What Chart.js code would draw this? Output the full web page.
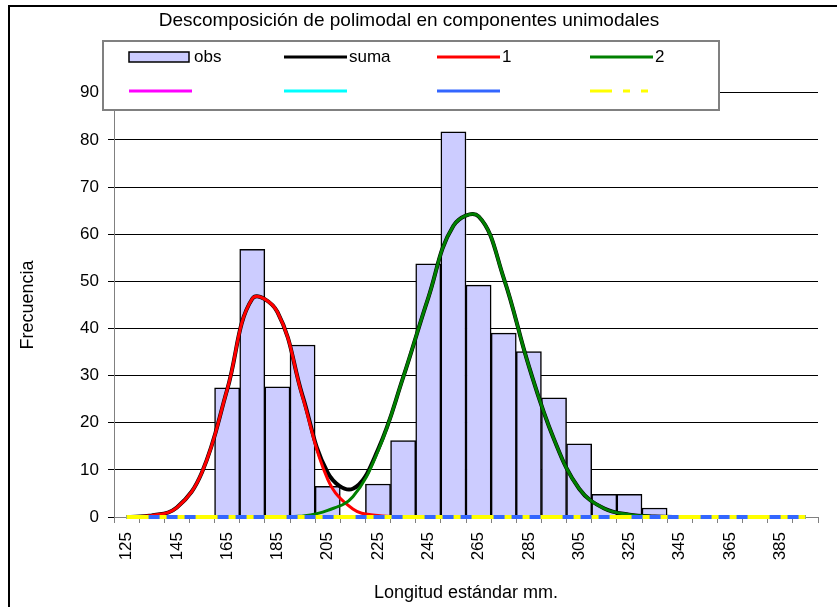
<!DOCTYPE html>
<html>
<head>
<meta charset="utf-8">
<script src="https://cdn.jsdelivr.net/npm/chart.js@4.4.1/dist/chart.umd.min.js"></script>
<style>
  html, body { margin: 0; padding: 0; background: #fff; }
  #wrap { width: 837px; height: 607px; position: relative; }
</style>
</head>
<body>
<div id="wrap"><canvas id="polyChart"></canvas></div>
<script>
// data
const categories = ['125','135','145','155','165','175','185','195','205','215','225','235','245','255',
  '265','275','285','295','305','315','325','335','345','355','365','375','385','395'];
const obs   = [0,0,0,0,27.4,56.8,27.6,36.5,6.5,0,7,16.2,53.7,81.7,49.2,39,35.1,25.3,15.5,4.8,4.8,1.9,0,0,0,0,0,0];
const suma  = [0,0.3,2,9.5,27,46.3,43.5,25.7,9.4,6,14.3,29.6,46.5,61.8,63.8,50.7,32,16.5,6,1.8,0.5,0.1,0,0,0,0,0,0];
const comp1 = [0,0.3,2,9.5,27,46.3,43.5,25.5,8,1.7,0.3,0,0,0,0,0,0,0,0,0,0,0,0,0,0,0,0,0];
const comp2 = [0,0,0,0,0,0,0,0.2,1.4,4.3,14,29.6,46.5,61.8,63.8,50.7,32,16.5,6,1.8,0.5,0.1,0,0,0,0,0,0];
const comp3 = [0,0,0,0,0,0,0,0,0,0,0,0,0,0,0,0,0,0,0,0,0,0,0,0,0,0,0,0];
const comp4 = [0,0,0,0,0,0,0,0,0,0,0,0,0,0,0,0,0,0,0,0,0,0,0,0,0,0,0,0];
const comp5 = [0,0,0,0,0,0,0,0,0,0,0,0,0,0,0,0,0,0,0,0,0,0,0,0,0,0,0,0];
const comp6 = [0,0,0,0,0,0,0,0,0,0,0,0,0,0,0,0,0,0,0,0,0,0,0,0,0,0,0,0];

const FONT = "'Liberation Sans', Arial, sans-serif";

function curve(label, data, color, order, width) {
  return {
    type: 'line', label: label, data: data, order: order,
    borderColor: color, backgroundColor: color, borderWidth: width || 3,
    pointRadius: 0, tension: 0.4, fill: false, clip: false
  };
}

// frame around the whole chart
const frame = {
  id: 'frame',
  beforeDraw(chart) {
    const c = chart.ctx;
    c.save();
    c.fillStyle = '#fff';
    c.fillRect(0, 0, chart.width, chart.height);
    c.strokeStyle = '#000';
    c.lineWidth = 2;
    c.beginPath();
    c.moveTo(9, chart.height);
    c.lineTo(9, 6);
    c.lineTo(chart.width, 6);
    c.stroke();
    c.restore();
  }
};

// legend box drawn over the top of the plot, 4 columns x 2 rows
const legendBox = {
  id: 'legendBox',
  afterDraw(chart) {
    const c = chart.ctx;
    c.save();
    c.fillStyle = '#fff';
    c.fillRect(103, 41, 616, 69);
    c.strokeStyle = '#808080';
    c.lineWidth = 2;
    c.strokeRect(103, 41, 616, 69);
    const cols = [129, 284, 437, 590];
    const rows = [57, 91];
    chart.data.datasets.forEach(function(ds, i) {
      const x = cols[i % 4], y = rows[Math.floor(i / 4)];
      if (ds.type === 'line') {
        c.strokeStyle = ds.borderColor;
        c.lineWidth = 3;
        c.setLineDash(ds.borderDash || []);
        c.beginPath();
        c.moveTo(x, y);
        c.lineTo(x + 63, y);
        c.stroke();
        c.setLineDash([]);
      } else {
        c.fillStyle = ds.backgroundColor;
        c.fillRect(x, y - 5, 60, 10);
        c.strokeStyle = '#000';
        c.lineWidth = 1.5;
        c.strokeRect(x, y - 5, 60, 10);
      }
      if (ds.label) {
        c.fillStyle = '#000';
        c.font = '17px ' + FONT;
        c.textBaseline = 'middle';
        c.fillText(ds.label, x + 65, y);
      }
    });
    c.restore();
  }
};

const yellowLine = curve('', comp6, '#FFFF00', 1, 4);
yellowLine.borderDash = [22, 11, 7, 11, 7, 11];
yellowLine.tension = 0;

new Chart(document.getElementById('polyChart'), {
  type: 'bar',
  data: {
    labels: categories,
    datasets: [
      {
        label: 'obs', data: obs, order: 8,
        backgroundColor: '#CCCCFF', borderColor: '#000', borderWidth: 1.5,
        borderSkipped: false, barPercentage: 1, categoryPercentage: 1
      },
      curve('suma', suma, '#000000', 7, 4),
      curve('1', comp1, '#FF0000', 6),
      curve('2', comp2, '#008000', 5),
      curve('', comp3, '#FF00FF', 4),
      curve('', comp4, '#00FFFF', 3),
      curve('', comp5, '#3366FF', 2, 4),
      yellowLine
    ]
  },
  options: {
    responsive: true,
    maintainAspectRatio: false,
    animation: false,
    layout: { padding: { top: 0, right: 19, bottom: 0, left: 0 } },
    plugins: {
      legend: { display: false },
      tooltip: { enabled: false },
      title: {
        display: true,
        text: 'Descomposición de polimodal en componentes unimodales',
        color: '#000',
        font: { family: FONT, size: 19, weight: 'normal', lineHeight: 1.2 },
        padding: { top: 9, bottom: 61 }
      }
    },
    scales: {
      x: {
        offset: true,
        grid: { drawOnChartArea: false, offset: true, tickLength: 6, color: '#808080' },
        border: { color: '#808080', width: 1 },
        ticks: {
          autoSkip: false, minRotation: 90, maxRotation: 90, padding: 9,
          color: '#000', font: { family: FONT, size: 17 },
          callback: function(v, i) { return i % 2 === 0 ? categories[i] : ''; }
        },
        title: {
          display: true, text: 'Longitud estándar mm.', color: '#000',
          font: { family: FONT, size: 18 }, padding: { top: 0, bottom: 3 }
        },
        afterFit: function(s) { s.height = 90; }
      },
      y: {
        min: 0, max: 90,
        grid: { color: '#000', lineWidth: 1, tickLength: 6 },
        border: { color: '#808080', width: 1 },
        ticks: { stepSize: 10, padding: 9, color: '#000', font: { family: FONT, size: 17 } },
        title: {
          display: true, text: 'Frecuencia', color: '#000',
          font: { family: FONT, size: 18 }, padding: { top: 17, bottom: 0 }
        },
        afterFit: function(s) { s.width = 114; }
      }
    }
  },
  plugins: [frame, legendBox]
});
</script>
</body>
</html>
